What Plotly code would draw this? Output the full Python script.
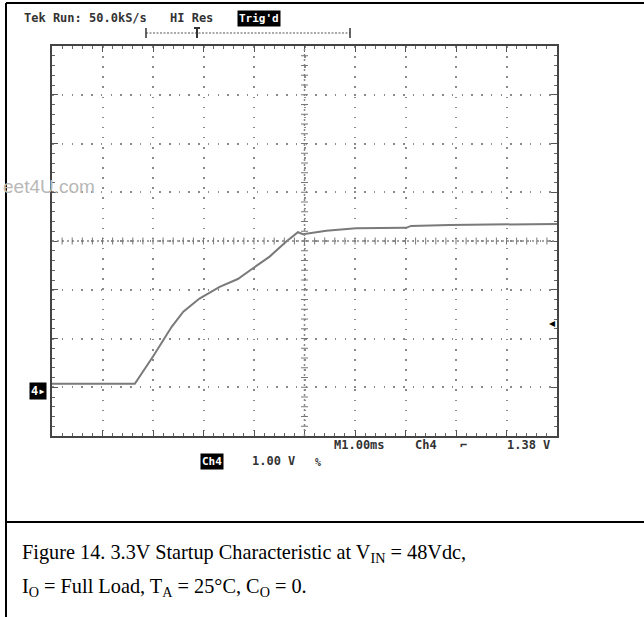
import plotly.graph_objects as go

# ---- data (time in divisions of 1.00 ms, voltage in divisions of 1.00 V) ----
time_div = [0.0, 1.64, 2.00, 2.37, 2.60, 2.92, 3.32, 3.68, 3.98, 4.31, 4.64, 4.87,
            4.97, 5.43, 6.02, 7.01, 7.11, 7.87, 10.0]
volt_div = [1.07, 1.07, 1.63, 2.24, 2.55, 2.82, 3.06, 3.22, 3.44, 3.68, 3.99, 4.18,
            4.14, 4.21, 4.26, 4.27, 4.31, 4.33, 4.35]

header_left = "Tek Run: 50.0kS/s"
header_mode = "HI Res"
header_trig = "Trig'd"
time_label = "M1.00ms"
ch_label = "Ch4"
trig_level = "1.38 V"
scale_label = "1.00 V"
caption1 = "Figure 14. 3.3V Startup Characteristic at V<sub>IN</sub> = 48Vdc,"
caption2 = "I<sub>O</sub> = Full Load, T<sub>A</sub> = 25°C, C<sub>O</sub> = 0."
watermark = "eet4U.com"

W, H = 644, 617
L, R, T, B = 52, 557, 46, 436

def px(x):
    return x / W

def py(y):
    return 1 - y / H

fig = go.Figure()
fig.add_trace(go.Scatter(x=time_div, y=volt_div, mode="lines",
                         line=dict(color="#7a7a7a", width=2), hoverinfo="skip",
                         showlegend=False))

gridcol = "#8a8a8a"
fig.update_layout(
    width=W, height=H, margin=dict(l=0, r=0, t=0, b=0),
    paper_bgcolor="white", plot_bgcolor="white", showlegend=False,
    xaxis=dict(domain=[px(L), px(R)], range=[0, 10], dtick=1, showticklabels=False,
               showgrid=True, gridcolor=gridcol, gridwidth=1.5, griddash="1.5px,8.6px",
               zeroline=False, showline=True, linecolor="#444", linewidth=2, mirror="ticks",
               ticks="inside", ticklen=6, tickcolor="#555", tickwidth=1,
               minor=dict(dtick=0.2, ticks="inside", ticklen=3, tickcolor="#666", showgrid=False),
               fixedrange=True),
    yaxis=dict(domain=[py(B), py(T)], range=[0, 8], dtick=1, showticklabels=False,
               showgrid=True, gridcolor=gridcol, gridwidth=1.5, griddash="1.5px,8.25px",
               zeroline=False, showline=True, linecolor="#444", linewidth=2, mirror="ticks",
               ticks="inside", ticklen=6, tickcolor="#555", tickwidth=1,
               minor=dict(dtick=0.2, ticks="inside", ticklen=3, tickcolor="#666", showgrid=False),
               fixedrange=True),
)

shapes = []
# centre crosshair lines
shapes.append(dict(type="line", xref="x", yref="y", x0=0, x1=10, y0=4, y1=4,
                   line=dict(color="#888", width=1.5, dash="2px,3px")))
shapes.append(dict(type="line", xref="x", yref="y", x0=5, x1=5, y0=0, y1=8,
                   line=dict(color="#888", width=1.5, dash="2px,3px")))
# crosshair tick marks
for i in range(1, 50):
    xv = i * 0.2
    shapes.append(dict(type="line", xref="x", yref="paper", x0=xv, x1=xv,
                       y0=py((T + B) / 2 + 3.5), y1=py((T + B) / 2 - 3.5),
                       line=dict(color="#777", width=1)))
for i in range(1, 40):
    yv = i * 0.2
    shapes.append(dict(type="line", xref="paper", yref="y", y0=yv, y1=yv,
                       x0=px((L + R) / 2 - 3.5), x1=px((L + R) / 2 + 3.5),
                       line=dict(color="#777", width=1)))
# page frame and caption divider
shapes.append(dict(type="line", xref="paper", yref="paper", x0=px(6), x1=px(6), y0=0, y1=py(3),
                   line=dict(color="black", width=2)))
shapes.append(dict(type="line", xref="paper", yref="paper", x0=px(6), x1=1, y0=py(3), y1=py(3),
                   line=dict(color="black", width=2)))
shapes.append(dict(type="line", xref="paper", yref="paper", x0=px(6), x1=1, y0=py(522), y1=py(522),
                   line=dict(color="black", width=2)))
# top horizontal-position bracket
shapes.append(dict(type="line", xref="paper", yref="paper", x0=px(146), x1=px(350),
                   y0=py(33), y1=py(33), line=dict(color="#555", width=1, dash="2px,1.5px")))
for xb in (146, 350):
    shapes.append(dict(type="line", xref="paper", yref="paper", x0=px(xb), x1=px(xb),
                       y0=py(28), y1=py(38), line=dict(color="#333", width=1.5)))
shapes.append(dict(type="line", xref="paper", yref="paper", x0=px(197), x1=px(197),
                   y0=py(28), y1=py(38), line=dict(color="#333", width=2)))
shapes.append(dict(type="line", xref="paper", yref="paper", x0=px(194), x1=px(200),
                   y0=py(28), y1=py(28), line=dict(color="#333", width=2)))
fig.update_layout(shapes=shapes)

scope_font = dict(family="DejaVu Sans Mono", size=12, color="#333", weight="bold")
box_font = dict(family="DejaVu Sans Mono", size=11, color="white", weight="bold")
ann = []

def txt(x, y, s, xanchor="left", font=scope_font, **kw):
    ann.append(dict(xref="paper", yref="paper", x=px(x), y=py(y), text=s, showarrow=False,
                    xanchor=xanchor, yanchor="middle", font=font, **kw))

txt(22, 18, header_left)
txt(168, 18, header_mode)
txt(237, 18, header_trig, font=box_font, bgcolor="black", borderpad=1)
txt(332, 445, time_label)
txt(413, 445, ch_label)
txt(458, 445, "⌐")
txt(505, 445, trig_level)
txt(200, 461, ch_label, font=box_font, bgcolor="black", borderpad=1)
txt(250, 461, scale_label)
txt(313, 462, "%", font=dict(family="DejaVu Sans Mono", size=10, color="#333", weight="bold"))
# ground marker
txt(29, 391, "4▸", font=dict(family="DejaVu Sans Mono", size=12, color="white", weight="bold"),
    bgcolor="black", borderpad=1)
# trigger level marker
txt(557, 323, "◂", xanchor="right", font=dict(family="DejaVu Sans", size=12, color="black"))
# watermark
txt(1, 186, watermark, font=dict(family="Liberation Sans", size=19, color="#b8b8b8"))
# caption
cap_font = dict(family="Liberation Serif", size=20.3, color="black")
txt(20, 553, caption1, font=cap_font)
txt(20, 587, caption2, font=cap_font)
fig.update_layout(annotations=ann)

fig.write_html("out.html", config={"displayModeBar": False},
               post_script="document.body.style.margin='0';document.body.style.overflow='hidden';")
